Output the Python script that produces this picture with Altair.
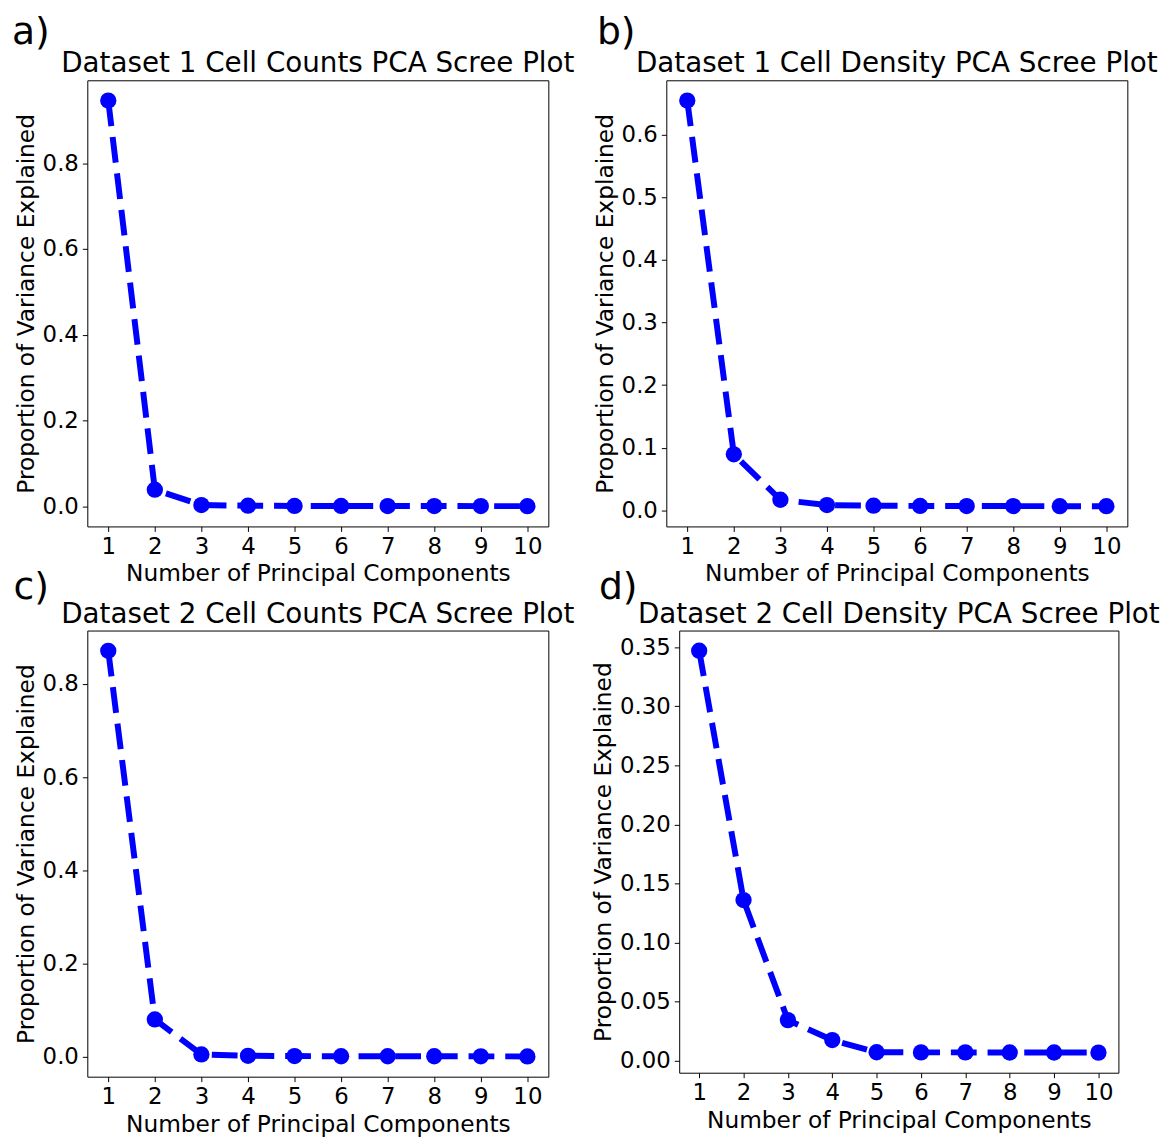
import altair as alt
import pandas as pd

# ---- data ----
components = list(range(1, 11))
ds1_counts = [0.946, 0.039, 0.003, 0.0015, 0.001, 0.001, 0.0008, 0.0007, 0.0006, 0.0005]
ds1_density = [0.654, 0.0895, 0.017, 0.0085, 0.0075, 0.0072, 0.0070, 0.0069, 0.0068, 0.0068]
ds2_counts = [0.871, 0.080, 0.005, 0.002, 0.0015, 0.001, 0.001, 0.001, 0.0008, 0.0007]
ds2_density = [0.347, 0.136, 0.0344, 0.0175, 0.0072, 0.0071, 0.0071, 0.0070, 0.0070, 0.0069]

titles = [
    "Dataset 1 Cell Counts PCA Scree Plot",
    "Dataset 1 Cell Density PCA Scree Plot",
    "Dataset 2 Cell Counts PCA Scree Plot",
    "Dataset 2 Cell Density PCA Scree Plot",
]
panel_labels = ["a)", "b)", "c)", "d)"]
yticks_a = [0.0, 0.2, 0.4, 0.6, 0.8]
yticks_b = [0.0, 0.1, 0.2, 0.3, 0.4, 0.5, 0.6]
yticks_c = [0.0, 0.2, 0.4, 0.6, 0.8]
yticks_d = [0.0, 0.05, 0.10, 0.15, 0.20, 0.25, 0.30, 0.35]

FONT = "DejaVu Sans"
BLUE = "#0000ff"


def panel(values, title, label, yticks, yfmt, w, h, lab_dx, lab_dy):
    df = pd.DataFrame({"pc": components, "v": values})
    lo, hi = min(values), max(values)
    m = (hi - lo) * 0.05
    x = alt.X(
        "pc:Q",
        scale=alt.Scale(domain=[0.55, 10.45], nice=False, zero=False),
        axis=alt.Axis(values=components, format="d",
                      title="Number of Principal Components"),
    )
    y = alt.Y(
        "v:Q",
        scale=alt.Scale(domain=[lo - m, hi + m], nice=False, zero=False),
        axis=alt.Axis(values=yticks, format=yfmt,
                      title="Proportion of Variance Explained"),
    )
    base = alt.Chart(df).encode(x=x, y=y)
    line = base.mark_line(color=BLUE, strokeWidth=6, strokeDash=[26, 11])
    pts = base.mark_circle(color=BLUE, size=270, opacity=1)
    ttl = alt.Chart(pd.DataFrame({"t": [title]})).mark_text(
        font=FONT, fontSize=28, baseline="alphabetic", align="center", color="black"
    ).encode(text="t:N", x=alt.value(w / 2), y=alt.value(-8))
    lab = alt.Chart(pd.DataFrame({"t": [label]})).mark_text(
        font=FONT, fontSize=38, baseline="alphabetic", align="left", color="black"
    ).encode(text="t:N", x=alt.value(lab_dx), y=alt.value(lab_dy))
    return alt.layer(line, pts, ttl, lab).properties(width=w, height=h)


pa = panel(ds1_counts, titles[0], panel_labels[0], yticks_a, ".1f", 465, 450, -76, -37)
pb = panel(ds1_density, titles[1], panel_labels[1], yticks_b, ".1f", 465, 450, -70, -37)
pc = panel(ds2_counts, titles[2], panel_labels[2], yticks_c, ".1f", 465, 450, -74.5, -32)
pd_ = panel(ds2_density, titles[3], panel_labels[3], yticks_d, ".2f", 443, 446, -81, -32)

row1 = alt.hconcat(pa, pb, spacing=119, bounds="flush")
row2 = alt.hconcat(pc, pd_, spacing=132, bounds="flush")

chart = alt.vconcat(
    row1, row2, spacing=555, bounds="flush"
).properties(
    padding={"left": 3, "top": 0, "right": 5, "bottom": 5}
).configure_view(
    stroke="black", strokeWidth=1
).configure_axis(
    domain=False, grid=False,
    tickColor="black", tickSize=5, tickWidth=1,
    labelFont=FONT, labelFontSize=23, labelColor="black", labelPadding=4,
    labelFlush=False, labelOverlap=False,
    titleFont=FONT, titleFontSize=23.5, titleFontWeight="normal",
    titleColor="black", titlePadding=4,
)

chart.save("out.html", embed_options={"renderer": "svg", "actions": False})
